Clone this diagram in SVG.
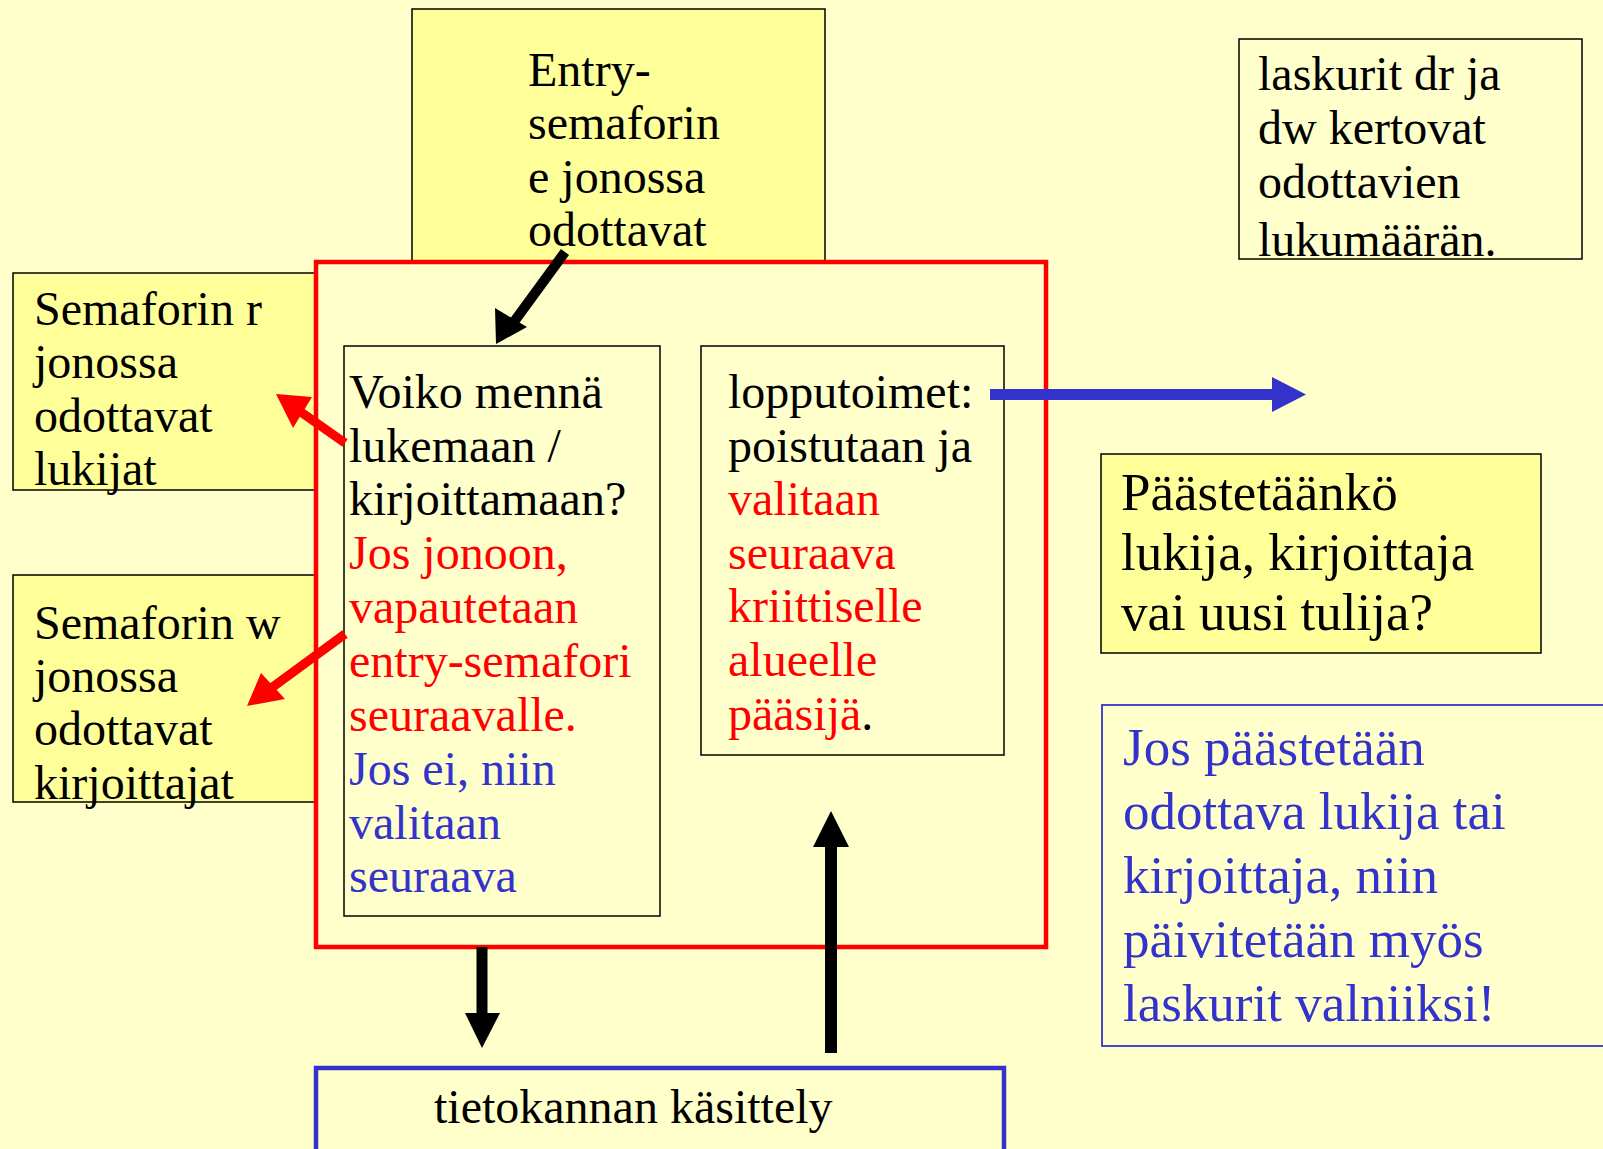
<svg xmlns="http://www.w3.org/2000/svg" width="1603" height="1149" viewBox="0 0 1603 1149">
  <defs>
    <style>
      text { font-family: "Liberation Serif", "Times New Roman", serif; font-size: 48px; fill: #000; }
      .big { font-size: 53px; }
      .red { fill: #FF0000; }
      .blue { fill: #3333CC; }
      .note { fill: #FFFF99; stroke: #000; stroke-width: 1.5; }
      .plain { fill: none; stroke: #000; stroke-width: 1.5; }
    </style>
  </defs>

  <!-- page background -->
  <rect x="0" y="0" width="1603" height="1149" fill="#FFFFCC"/>

  <!-- queue boxes behind the monitor frame -->
  <g id="entry-queue">
    <rect class="note" x="412" y="9" width="413" height="280"/>
  </g>
  <g id="r-queue">
    <rect class="note" x="13" y="273" width="320" height="217"/>
    <text x="34" y="325">Semaforin r</text>
    <text x="34" y="378">jonossa</text>
    <text x="34" y="432">odottavat</text>
    <text x="34" y="485">lukijat</text>
  </g>
  <g id="w-queue">
    <rect class="note" x="13" y="575" width="320" height="227"/>
    <text x="34" y="639">Semaforin w</text>
    <text x="34" y="692">jonossa</text>
    <text x="34" y="745">odottavat</text>
    <text x="34" y="799">kirjoittajat</text>
  </g>

  <!-- monitor frame -->
  <g id="monitor">
    <rect x="316" y="262" width="730" height="685" fill="#FFFFCC" stroke="#FF0000" stroke-width="4.5"/>
  </g>

  <g id="entry-queue-label">
    <text x="528" y="86">Entry-</text>
    <text x="528" y="139">semaforin</text>
    <text x="528" y="193">e jonossa</text>
    <text x="528" y="246">odottavat</text>
  </g>

  <g id="entry-check">
    <rect class="plain" x="344" y="346" width="316" height="570"/>
    <text x="349" y="408">Voiko mennä</text>
    <text x="349" y="462">lukemaan /</text>
    <text x="349" y="515">kirjoittamaan?</text>
    <text class="red" x="349" y="569">Jos jonoon,</text>
    <text class="red" x="349" y="623">vapautetaan</text>
    <text class="red" x="349" y="677">entry-semafori</text>
    <text class="red" x="349" y="731">seuraavalle.</text>
    <text class="blue" x="349" y="785">Jos ei, niin</text>
    <text class="blue" x="349" y="839">valitaan</text>
    <text class="blue" x="349" y="892">seuraava</text>
  </g>

  <g id="exit-actions">
    <rect class="plain" x="701" y="346" width="303" height="409"/>
    <text x="728" y="408">lopputoimet:</text>
    <text x="728" y="462">poistutaan ja</text>
    <text class="red" x="728" y="515">valitaan</text>
    <text class="red" x="728" y="569">seuraava</text>
    <text class="red" x="728" y="622">kriittiselle</text>
    <text class="red" x="728" y="676">alueelle</text>
    <text x="728" y="730"><tspan class="red">pääsijä</tspan>.</text>
  </g>

  <g id="counters-note">
    <rect class="plain" x="1239" y="39" width="343" height="220"/>
    <text x="1258" y="90">laskurit dr ja</text>
    <text x="1258" y="144">dw kertovat</text>
    <text x="1258" y="198">odottavien</text>
    <text x="1258" y="256">lukumäärän.</text>
  </g>

  <g id="release-question">
    <rect class="note" x="1101" y="454" width="440" height="199"/>
    <text class="big" x="1121" y="510">Päästetäänkö</text>
    <text class="big" x="1121" y="570">lukija, kirjoittaja</text>
    <text class="big" x="1121" y="630">vai uusi tulija?</text>
  </g>

  <g id="counter-update">
    <rect x="1102" y="705" width="520" height="341" fill="none" stroke="#3333CC" stroke-width="1.8"/>
    <text class="big blue" x="1123" y="765">Jos päästetään</text>
    <text class="big blue" x="1123" y="829">odottava lukija tai</text>
    <text class="big blue" x="1123" y="893">kirjoittaja, niin</text>
    <text class="big blue" x="1123" y="957">päivitetään myös</text>
    <text class="big blue" x="1123" y="1021">laskurit valniiksi!</text>
  </g>

  <g id="database">
    <rect x="316" y="1068" width="688" height="100" fill="none" stroke="#3333CC" stroke-width="4.5"/>
    <text x="434" y="1123">tietokannan käsittely</text>
  </g>

  <!-- connectors -->
  <g id="connectors">
    <!-- entry queue into the check -->
    <line x1="565" y1="252" x2="508" y2="330" stroke="#000" stroke-width="10"/>
    <polygon points="496,344 495,308 527,327" fill="#000"/>
    <!-- check to reader queue -->
    <line x1="345" y1="443" x2="298" y2="410" stroke="#FF0000" stroke-width="9"/>
    <polygon points="276,394 312,397 293,428" fill="#FF0000"/>
    <!-- check to writer queue -->
    <line x1="345" y1="634" x2="270" y2="689" stroke="#FF0000" stroke-width="9"/>
    <polygon points="247,706 261,673 285,699" fill="#FF0000"/>
    <!-- exit actions out to the next release -->
    <rect x="990" y="389" width="284" height="11" fill="#3333CC"/>
    <polygon points="1272,377 1306,394.5 1272,412" fill="#3333CC"/>
    <!-- monitor down to the database -->
    <rect x="476.5" y="947" width="11" height="68" fill="#000"/>
    <polygon points="465,1013 500,1013 482,1048" fill="#000"/>
    <!-- database back up to the exit actions -->
    <rect x="825" y="845" width="12" height="208" fill="#000"/>
    <polygon points="813,847 849,847 831,811" fill="#000"/>
  </g>
</svg>
